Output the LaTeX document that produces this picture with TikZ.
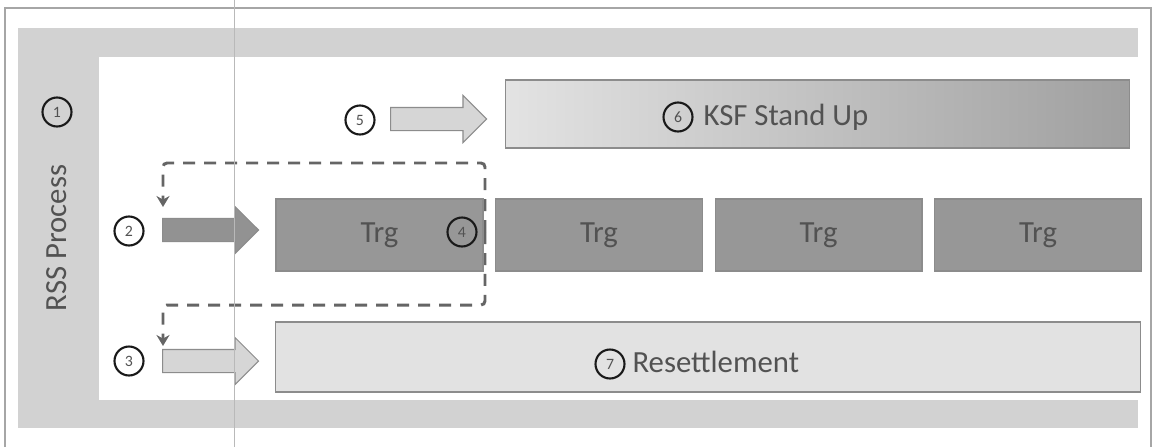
\documentclass[tikz,border=0pt]{standalone}
\usepackage{fontspec}
\setmainfont{Carlito}
\usetikzlibrary{positioning,shapes.arrows,arrows.meta}

\definecolor{txtgray}{HTML}{525252}
\definecolor{bandgray}{HTML}{D2D2D2}
\definecolor{edgegray}{HTML}{8C8C8C}
\definecolor{darkbox}{HTML}{979797}
\definecolor{lightbox}{HTML}{E2E2E2}
\definecolor{lightarrow}{HTML}{D6D6D6}
\definecolor{dasharrow}{HTML}{929292}
\definecolor{dashgray}{HTML}{656565}

\begin{document}
\begin{tikzpicture}[x=0.02cm, y=-0.02cm,
semithick,
block/.style={draw=edgegray, rectangle, minimum height=1.44cm, text=txtgray, font=\fontsize{17.5}{20}\selectfont, inner sep=0pt},
trg/.style={block, fill=darkbox, minimum width=4.14cm},
label/.style={text=txtgray, font=\fontsize{17.5}{20}\selectfont, inner sep=0pt},
numcirc/.style={draw=black!90, circle, line width=1.2pt, minimum size=0.58cm, inner sep=0pt, text=txtgray, font=\fontsize{9}{9}\selectfont},
fatarrow/.style={single arrow, draw=edgegray, inner sep=0pt, text height=0.44cm, text depth=0pt, single arrow head extend=0.24cm, minimum height=1.92cm, anchor=tail},
flow/.style={draw=dashgray, line width=1.7pt, dash pattern=on 0.24cm off 0.18cm, rounded corners=0.08cm, -{Stealth[length=0.22cm,width=0.26cm]}}]

\useasboundingbox (0,0) rectangle (1153,447);

% frame and grey band
\draw[gray!70, line width=0.6pt] (5,447) -- (5,8) -- (1151,8) -- (1151,447);
\fill[bandgray] (18,28) rectangle (1138,428);
\fill[white] (99,57) rectangle (1138,400);

\node[numcirc]			(n1) at (57,112)		{1};
\node[label, rotate=90]	(rss) at (57,238)		{RSS Process};

% feedback loops
\coordinate (hub) at (485,232);
\coordinate (in2) at (163,207);
\coordinate (in3) at (163,346);
\draw[flow] (hub) -- ++(0,-69) -| (in2);
\draw[flow] (hub) -- ++(0,73) -| (in3);

% top row
\node[numcirc]				(n5) at (360,120)		{5};
\node[fatarrow, fill=lightarrow]	(a5) at (390,119)		{};
\node[block, minimum width=12.5cm, minimum height=1.36cm, left color=gray!22, right color=gray!75]	(ksf) at (817.5,114)	{};
\node[numcirc]				(n6) at (678,117)		{6};
\node[label, anchor=west]		(ksftxt) at (703,117)	{KSF Stand Up};

% training row
\node[numcirc]				(n2) at (129,231)		{2};
\node[fatarrow, fill=dasharrow]	(a2) at (162,230)		{};
\node[trg]		(t1) at (379.5,235)		{Trg};
\node[trg]		(t2) [right=0.23cm of t1]	{Trg};
\node[trg]		(t3) [right=0.23cm of t2]	{Trg};
\node[trg]		(t4) [right=0.23cm of t3]	{Trg};
\node[numcirc]	(n4) at (462,232)		{4};

% bottom row
\node[numcirc]				(n3) at (129,361)		{3};
\node[fatarrow, fill=lightarrow]	(a3) at (162,361)		{};
\node[block, fill=lightbox, minimum width=17.3cm, minimum height=1.4cm]	(res) at (708,357)	{};
\node[numcirc]				(n7) at (610,364)		{7};
\node[label, anchor=west]		(restxt) at (632,362)	{Resettlement};

\draw[gray!55, line width=0.4pt] (234,0) -- (234,447);

\end{tikzpicture}
\end{document}
